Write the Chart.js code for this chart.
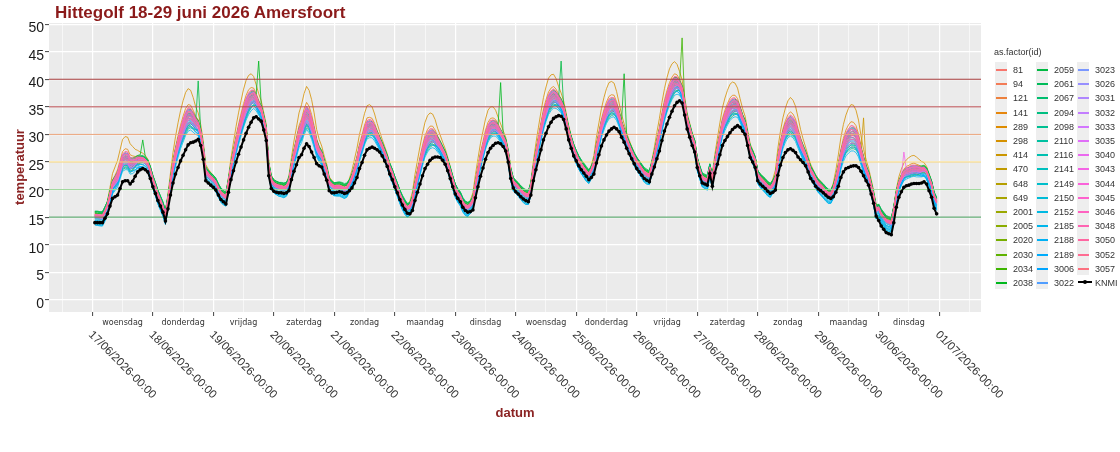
<!DOCTYPE html>
<html>
<head>
<meta charset="utf-8">
<script src="https://cdn.jsdelivr.net/npm/chart.js@4.4.1/dist/chart.umd.min.js"></script>
<style>
  body { margin: 0; background: #fff; font-family: "Liberation Sans", Arial, sans-serif; }
  #wrap { position: relative; width: 1120px; height: 452px; overflow: hidden; }
  #chart { position: absolute; left: 0; top: 0; }
  .title { position: absolute; left: 55px; top: 3px; font-size: 17px; line-height: 20px; font-weight: bold; color: #8b1a1a; white-space: nowrap; }
  .xtitle { position: absolute; left: 415px; width: 200px; top: 405px; text-align: center; font-size: 13px; line-height: 16px; font-weight: bold; color: #8b2424; }
  .ytitle { position: absolute; left: -80px; width: 200px; top: 159px; text-align: center; font-size: 13px; line-height: 16px; font-weight: bold; color: #8b2424; transform: rotate(-90deg); }
  .lgtitle { position: absolute; left: 994px; top: 47px; font-size: 9px; line-height: 11px; color: #333; }
  .strip { position: absolute; width: 12px; background: #eeeeee; }
  .key { position: absolute; width: 11px; height: 1px; }
  .lab { position: absolute; font-size: 9px; line-height: 10px; color: #333; white-space: nowrap; }
</style>
</head>
<body>
<div id="wrap">
  <canvas id="chart" width="1120" height="452"></canvas>
  <div class="title">Hittegolf 18-29 juni 2026 Amersfoort</div>
  <div class="xtitle">datum</div>
  <div class="ytitle">temperatuur</div>
  <div class="lgtitle">as.factor(id)</div>
  <div id="legend"></div>
</div>
<script>
// tick labels
const dateLabels = ['17/06/2026-00:00', '18/06/2026-00:00', '19/06/2026-00:00', '20/06/2026-00:00',
  '21/06/2026-00:00', '22/06/2026-00:00', '23/06/2026-00:00', '24/06/2026-00:00', '25/06/2026-00:00',
  '26/06/2026-00:00', '27/06/2026-00:00', '28/06/2026-00:00', '29/06/2026-00:00', '30/06/2026-00:00',
  '01/07/2026-00:00'];
const dayNames = ['woensdag', 'donderdag', 'vrijdag', 'zaterdag', 'zondag', 'maandag', 'dinsdag',
  'woensdag', 'donderdag', 'vrijdag', 'zaterdag', 'zondag', 'maandag', 'dinsdag'];

// sensor ids (legend order)
const sensorIds = [81, 94, 121, 141, 289, 298, 414, 470, 648, 649, 2001, 2005, 2020, 2030, 2034, 2038,
  2059, 2061, 2067, 2094, 2098, 2110, 2116, 2141, 2149, 2150, 2152, 2185, 2188, 2189, 3006, 3022,
  3023, 3026, 3031, 3032, 3033, 3035, 3040, 3043, 3044, 3045, 3046, 3048, 3050, 3052, 3057];

// KNMI hourly temperature, one row per day (hour 0..23)
const knmi = [
  [null, 14.0, 14.0, 14.0, 14.0, 14.8, 15.6, 17.0, 18.4, 18.7, 19.0, 20.2, 21.4, 21.6, 21.6, 21.0, 21.5, 22.4, 23.2, 23.6, 23.8, 23.6, 23.2, 22.0],
  [20.5, 19.3, 18.0, 17.0, 15.9, 14.3, 16.5, 19.0, 21.2, 22.8, 24.0, 25.2, 26.2, 27.2, 28.1, 28.5, 28.6, 28.8, 29.1, 28.0, 25.5, 21.6, 21.2, 20.8],
  [20.4, 19.9, 19.0, 18.2, 17.8, 17.4, 19.5, 21.8, 23.4, 25.0, 26.4, 27.7, 29.0, 30.2, 31.3, 32.2, 33.0, 33.2, 32.8, 32.4, 30.8, 28.9, 22.5, 20.2],
  [19.7, 19.5, 19.4, 19.4, 19.3, 19.4, 19.8, 21.8, 23.3, 24.5, 25.8, 26.3, 27.5, 28.3, 27.8, 26.8, 25.8, 24.7, 24.3, 24.1, 22.8, 21.7, 19.8, 19.4],
  [19.4, 19.5, 19.6, 19.5, 19.3, 19.4, 19.8, 20.3, 21.2, 22.2, 23.8, 24.9, 26.2, 27.2, 27.5, 27.7, 27.5, 27.2, 26.8, 26.1, 25.2, 24.2, 22.8, 21.8],
  [20.5, 19.4, 18.2, 17.2, 16.4, 15.7, 15.6, 16.2, 18.0, 19.5, 21.0, 22.5, 23.8, 24.6, 25.3, 25.7, 25.9, 25.9, 25.8, 25.3, 24.6, 23.4, 22.0, 20.5],
  [19.2, 18.4, 17.8, 16.8, 16.2, 15.9, 16.0, 16.3, 18.5, 20.5, 22.4, 23.9, 25.5, 26.7, 27.5, 28.0, 28.4, 28.5, 28.3, 27.8, 27.0, 25.0, 22.0, 20.3],
  [19.6, 19.2, 18.7, 18.3, 18.0, 17.8, 19.0, 21.6, 23.6, 25.4, 27.2, 29.0, 30.2, 31.4, 32.2, 32.9, 33.2, 33.4, 33.3, 32.7, 31.0, 29.0, 27.5, 26.1],
  [25.2, 24.3, 23.6, 23.0, 22.4, 21.8, 22.2, 22.8, 24.8, 26.3, 27.9, 29.0, 29.9, 30.6, 31.0, 31.3, 31.0, 30.5, 29.5, 28.6, 27.5, 26.5, 25.6, 24.7],
  [23.8, 23.2, 22.6, 22.0, 21.7, 21.4, 22.8, 24.1, 25.6, 27.0, 28.9, 30.6, 31.9, 33.1, 34.2, 35.2, 35.8, 36.1, 35.7, 33.5, 31.0, 29.5, 28.0, 26.8],
  [24.0, 22.5, 21.2, 21.0, 20.8, 22.9, 20.6, 23.0, 24.6, 26.3, 28.0, 28.9, 29.6, 30.3, 30.9, 31.3, 31.6, 31.3, 30.6, 30.0, 28.0, 25.8, 25.0, 24.0],
  [21.6, 21.0, 20.6, 20.2, 19.7, 19.3, 19.5, 19.9, 22.6, 24.4, 25.8, 26.7, 27.2, 27.4, 27.1, 26.7, 25.9, 25.4, 24.9, 24.3, 23.2, 22.0, 21.4, 20.6],
  [20.1, 19.8, 19.4, 19.0, 18.6, 18.4, 18.7, 19.5, 20.6, 22.2, 23.2, 23.8, 24.0, 24.2, 24.3, 24.3, 24.0, 23.3, 22.5, 21.6, 20.8, 19.2, 17.5, 15.2],
  [14.4, 13.4, 12.8, 12.2, 12.0, 11.8, 14.0, 16.8, 18.6, 19.6, 20.4, 20.7, 20.8, 21.0, 21.1, 21.1, 21.1, 21.2, 21.4, 21.0, 19.8, 18.6, 16.6, 15.6]
];

// sensors: excess over KNMI
const dayPeak = [5.0, 6.5, 6.0, 6.5, 5.0, 5.5, 4.8, 5.5, 5.5, 5.5, 5.5, 5.8, 7.0, 3.2];       // top of band above KNMI per day
const nightShift = [0.6, 0.4, 0.6, 0.4, 0.3, 0.3, 0.3, 0.5, 0.3, 0.5, 0.3, 0.3, 0.0, 1.8];  // band offset at night per day
const excessShape = [0.12, 0.1, 0.08, 0.06, 0.05, 0.08, 0.18, 0.32, 0.48, 0.62, 0.75, 0.86,
  0.95, 1.0, 0.98, 0.9, 0.75, 0.55, 0.4, 0.3, 0.24, 0.2, 0.16, 0.14];
const sensorGain = [0.95, 1.05, 0.9, 1.15, 0.85, 1.6, 1.0, 0.75, 0.6, 0.8, 0.5, 0.7, 0.9, 0.6, 0.8, 1.0,
  0.85, 0.55, 0.95, 0.45, 0.8, 0.65, 0.9, 1.0, 0.75, 0.55, 0.85, 0.4, 0.7, 0.5, 0.6, 0.8,
  0.85, 0.65, 0.95, 0.7, 1.0, 0.8, 0.6, 0.95, 0.75, 0.9, 1.05, 0.7, 0.85, 0.95, 0.8];
const sensorNight = [0.3, 0.5, 0.2, 0.4, 0.3, 0.6, 0.5, 0.2, 0.0, 0.3, 0.1, 0.4, 0.8, 1.0, 1.2, 1.1,
  0.9, 1.4, 1.0, 0.6, 0.3, 0.0, -0.3, -0.6, -0.8, -1.2, -1.5, -1.0, -1.4, -0.9, -0.5, -0.2,
  0.1, 0.0, 0.2, 0.3, 0.0, 0.4, 0.2, 0.5, 0.3, 0.6, 0.4, 0.2, 0.5, 0.3, 0.1];
// single readings that stick out: [id, hour since 17/06 00:00, temperature]
const spikes = [[2038, 20, 29.0], [2059, 42, 39.7], [2038, 66, 43.3], [2038, 162, 39.4],
  [2059, 186, 43.3], [2038, 211, 41.0], [2034, 234, 47.5], [414, 306, 33.0], [3043, 322, 26.8]];

const thresholds = [15, 20, 25, 30, 35, 40];
const thresholdColors = ['#3f9a55', '#9dd89a', '#f3d06e', '#eba47c', '#b5474b', '#a43a3a'];

// ggplot default hue palette
function hcl(h, c, l) {
  const hr = h * Math.PI / 180;
  const U = c * Math.cos(hr), V = c * Math.sin(hr);
  const Xn = 95.047, Yn = 100, Zn = 108.883;
  const d = Xn + 15 * Yn + 3 * Zn;
  const un = 4 * Xn / d, vn = 9 * Yn / d;
  const Y = Yn * Math.pow((l + 16) / 116, 3);
  const u = U / (13 * l) + un, v = V / (13 * l) + vn;
  const X = 9 * Y * u / (4 * v), Z = -X / 3 - 5 * Y + 3 * Y / v;
  const x = X / 100, y = Y / 100, z = Z / 100;
  const lin = [3.240479 * x - 1.537150 * y - 0.498535 * z,
    -0.969256 * x + 1.875992 * y + 0.041556 * z,
    0.055648 * x - 0.204043 * y + 1.057311 * z];
  const c255 = lin.map(t => {
    const g = t <= 0.0031308 ? 12.92 * t : 1.055 * Math.pow(t, 1 / 2.4) - 0.055;
    return Math.round(Math.max(0, Math.min(1, g)) * 255);
  });
  return 'rgb(' + c255.join(',') + ')';
}
const colors = sensorIds.map((_, i) => hcl(15 + i * 360 / sensorIds.length, 100, 65));

const knmiFlat = knmi.flat();
const knmiPoints = knmiFlat.map((v, h) => ({ x: h, y: v }));

const sensorSets = sensorIds.map((id, s) => {
  const pts = knmiFlat.map((v, h) => {
    if (v === null) return { x: h, y: null };
    const d = Math.floor(h / 24), sh = excessShape[h % 24];
    const y = v + (nightShift[d] + sensorNight[s]) * (1 - sh) + sensorGain[s] * dayPeak[d] * sh;
    return { x: h, y: Math.round(y * 10) / 10 };
  });
  spikes.filter(p => p[0] === id).forEach(p => { pts[p[1]].y = p[2]; });
  return {
    label: String(id), data: pts, borderColor: colors[s], borderWidth: 0.8,
    pointRadius: 0, tension: 0, order: 1000 - s
  };
});

const xMin = -17.2, xMax = 352.6;
const hlineSets = thresholds.map((t, i) => ({
  label: 'h' + t, data: [{ x: xMin, y: t }, { x: xMax, y: t }],
  borderColor: thresholdColors[i], borderWidth: 1, pointRadius: 0, order: 1
}));

const knmiSet = {
  label: 'KNMI', data: knmiPoints, borderColor: '#000', backgroundColor: '#000',
  borderWidth: 2, pointRadius: 1.8, pointBackgroundColor: '#000', pointBorderWidth: 0, order: 0
};

const panelBg = {
  id: 'panelBg',
  beforeDraw(chart) {
    const { ctx, chartArea: a } = chart;
    ctx.save();
    ctx.fillStyle = '#ebebeb';
    ctx.fillRect(a.left, a.top, a.right - a.left, a.bottom - a.top);
    ctx.restore();
  }
};

// rotated date labels and day names under the panel
const xLabels = {
  id: 'xLabels',
  afterDraw(chart) {
    const ctx = chart.ctx, xs = chart.scales.x;
    ctx.save();
    ctx.fillStyle = '#333';
    ctx.font = '11.5px "Liberation Sans", Arial, sans-serif';
    ctx.textAlign = 'left';
    ctx.textBaseline = 'middle';
    dateLabels.forEach((lab, i) => {
      const px = xs.getPixelForValue(i * 24);
      ctx.save();
      ctx.translate(px - 2, 333);
      ctx.rotate(Math.PI / 4);
      ctx.fillText(lab, 0, 0);
      ctx.restore();
    });
    ctx.font = '8px "DejaVu Sans", sans-serif';
    ctx.textAlign = 'center';
    dayNames.forEach((d, i) => {
      ctx.fillText(d, xs.getPixelForValue(i * 24 + 12), 323);
    });
    ctx.restore();
  }
};

new Chart(document.getElementById('chart'), {
  type: 'line',
  data: { datasets: [knmiSet, ...hlineSets, ...sensorSets] },
  options: {
    responsive: false,
    animation: false,
    events: [],
    layout: { padding: { top: 23, right: 139, bottom: 0, left: 0 } },
    plugins: { legend: { display: false }, tooltip: { enabled: false }, title: { display: false } },
    scales: {
      x: {
        type: 'linear', min: xMin, max: xMax,
        afterFit(scale) { scale.height = 140; },
        border: { display: false },
        ticks: { display: false, stepSize: 12, includeBounds: false },
        grid: {
          color: '#ffffff',
          lineWidth: c => (c.tick && c.tick.value % 24 === 0) ? 1.2 : 0.6,
          tickColor: c => (c.tick && c.tick.value % 24 === 0) ? '#444' : 'rgba(0,0,0,0)',
          tickLength: 4, tickWidth: 1
        }
      },
      y: {
        type: 'linear', min: -2.2, max: 50.2,
        afterFit(scale) { scale.width = 49; },
        border: { display: false },
        ticks: {
          stepSize: 2.5, includeBounds: false, padding: 1, labelOffset: 4,
          color: '#1a1a1a', font: { size: 14, family: '"Liberation Sans", Arial, sans-serif' },
          callback: v => (v % 5 === 0 ? v : '')
        },
        grid: {
          color: '#ffffff',
          lineWidth: c => (c.tick && c.tick.value % 5 === 0) ? 1.2 : 0.6,
          tickColor: c => (c.tick && c.tick.value % 5 === 0) ? '#444' : 'rgba(0,0,0,0)',
          tickLength: 4, tickWidth: 1
        }
      }
    }
  },
  plugins: [panelBg, xLabels]
});

// legend, three columns like ggplot
const legend = document.getElementById('legend');
const colX = [995, 1036, 1077], rowY0 = 69, rowH = 14.2, perCol = 16;
colX.forEach((cx, c) => {
  const n = Math.min(perCol, sensorIds.length - c * perCol);
  const strip = document.createElement('div');
  strip.className = 'strip';
  strip.style.left = cx + 'px';
  strip.style.top = Math.round(rowY0 - rowH / 2) + 'px';
  strip.style.height = Math.round(n * rowH) + 'px';
  legend.appendChild(strip);
});
sensorIds.concat(['KNMI']).forEach((id, i) => {
  const c = Math.floor(i / perCol), r = i % perCol;
  const cy = Math.round(rowY0 + r * rowH);
  const key = document.createElement('div');
  key.className = 'key';
  if (id === 'KNMI') {
    key.style.left = (colX[c] + 1) + 'px';
    key.style.width = '14px';
    key.style.height = '2px';
    key.style.top = (cy - 1) + 'px';
    key.style.background = '#000';
    const dot = document.createElement('div');
    dot.style.cssText = 'position:absolute;left:' + (colX[c] + 6) + 'px;top:' + (cy - 2) + 'px;width:4px;height:4px;border-radius:2px;background:#000';
    legend.appendChild(dot);
  } else {
    key.style.left = (colX[c] + 1) + 'px';
    key.style.top = cy + 'px';
    key.style.height = '1.5px';
    key.style.background = colors[i];
  }
  legend.appendChild(key);
  const lab = document.createElement('div');
  lab.className = 'lab';
  lab.textContent = id;
  lab.style.left = (colX[c] + 18) + 'px';
  lab.style.top = (cy - 4) + 'px';
  legend.appendChild(lab);
});
</script>
</body>
</html>
